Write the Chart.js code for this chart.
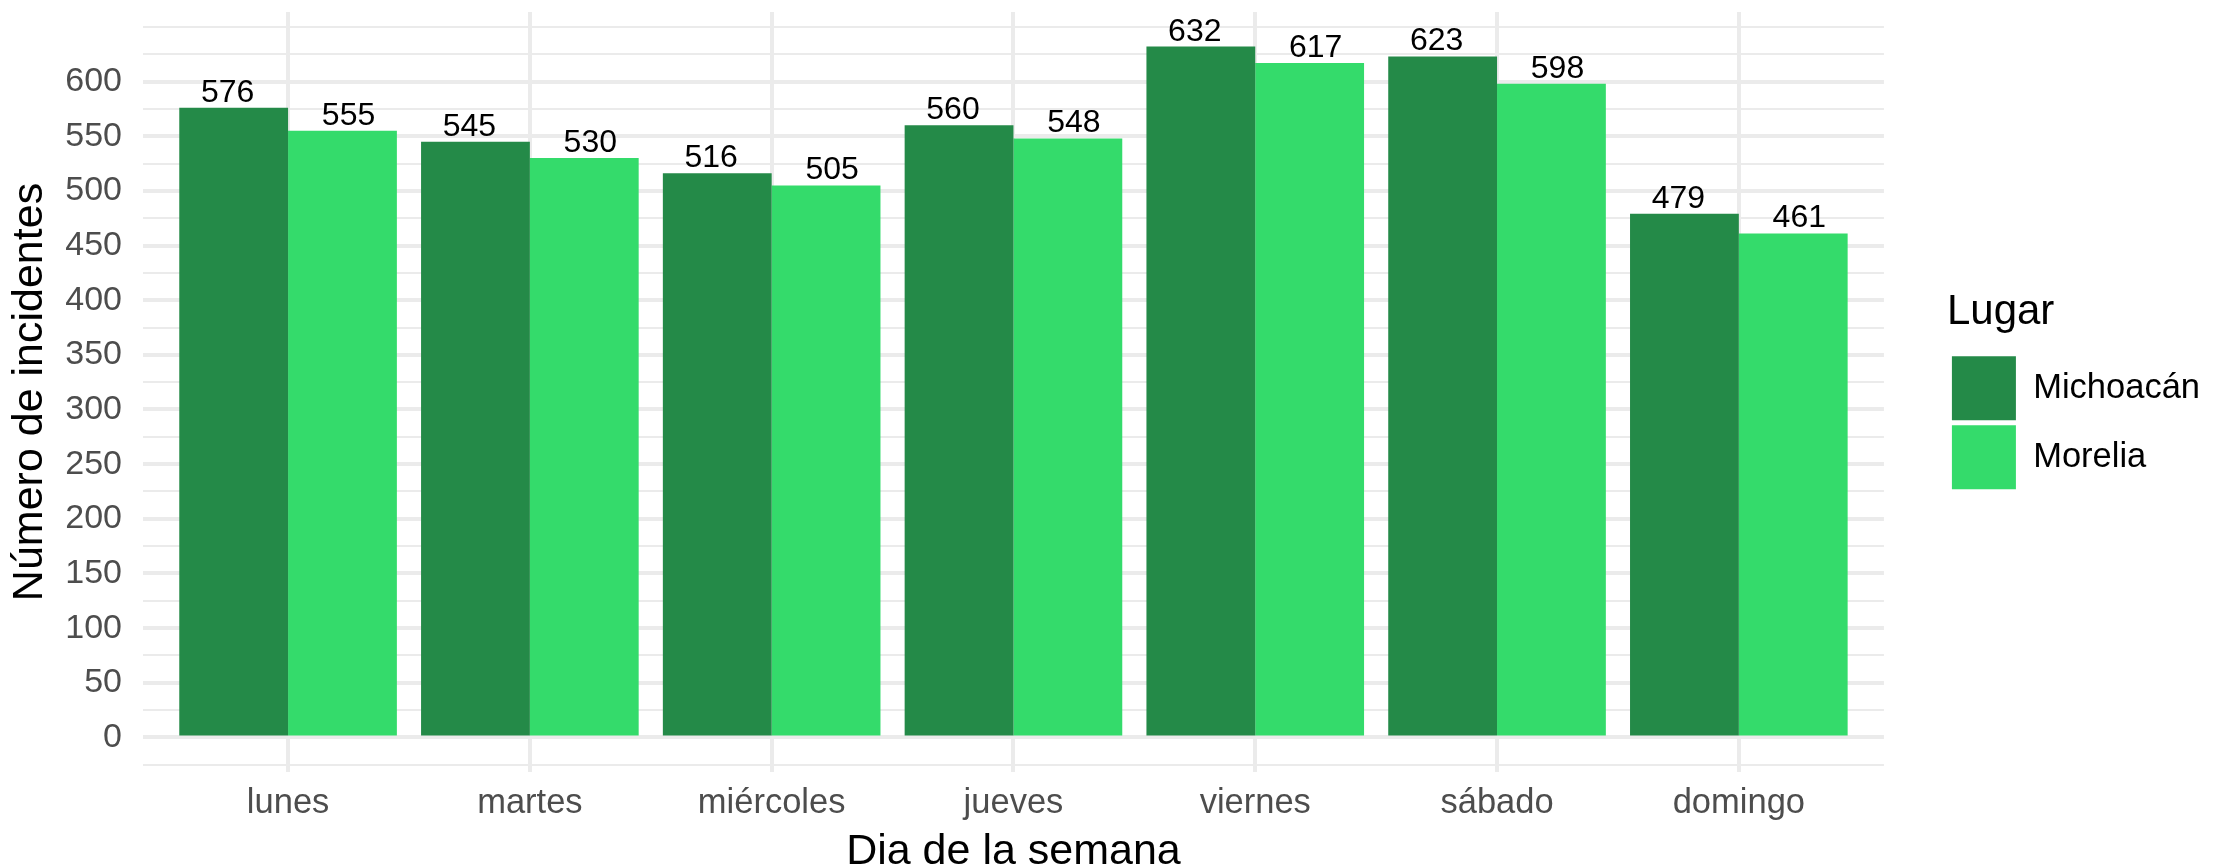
<!DOCTYPE html>
<html>
<head>
<meta charset="utf-8">
<script src="https://cdn.jsdelivr.net/npm/chart.js@4.4.1/dist/chart.umd.min.js"></script>
<style>
  html, body { margin: 0; padding: 0; background: #ffffff; }
</style>
</head>
<body>
<canvas id="chart" width="2213" height="867"></canvas>
<script>
const dias = ["lunes", "martes", "miércoles", "jueves", "viernes", "sábado", "domingo"];
const lugares = ["Michoacán", "Morelia"];
const michoacan = [576, 545, 516, 560, 632, 623, 479];
const morelia = [555, 530, 505, 548, 617, 598, 461];
const etiquetasY = [0, 50, 100, 150, 200, 250, 300, 350, 400, 450, 500, 550, 600];
const lineasY = [-25, 0, 25, 50, 75, 100, 125, 150, 175, 200, 225, 250, 275, 300,
  325, 350, 375, 400, 425, 450, 475, 500, 525, 550, 575, 600, 625, 650];

const colores = ["#248A48", "#34DB6B"];
const fuente = '"Liberation Sans", Arial, sans-serif';
Chart.defaults.font.family = fuente;

// etiquetas de valor encima de cada barra
const etiquetasBarras = {
  id: "etiquetasBarras",
  afterDatasetsDraw(chart) {
    const { ctx, scales } = chart;
    ctx.save();
    ctx.font = "32px " + fuente;
    ctx.fillStyle = "#000000";
    ctx.textAlign = "center";
    ctx.textBaseline = "alphabetic";
    chart.data.datasets.forEach((ds, d) => {
      const desplaz = d === 0 ? -0.25 : 0.25;
      ds.data.forEach((p) => {
        ctx.fillText(
          String(p.y),
          scales.x.getPixelForValue(p.x + desplaz),
          scales.y.getPixelForValue(p.y) - 6,
        );
      });
    });
    ctx.restore();
  },
};

new Chart(document.getElementById("chart"), {
  type: "bar",
  data: {
    datasets: [
      {
        label: lugares[0],
        data: michoacan.map((v, i) => ({ x: i, y: v })),
        backgroundColor: colores[0],
      },
      {
        label: lugares[1],
        data: morelia.map((v, i) => ({ x: i, y: v })),
        backgroundColor: colores[1],
      },
    ],
  },
  options: {
    responsive: false,
    devicePixelRatio: 1,
    animation: false,
    layout: { padding: { left: 0, right: 3, top: 12, bottom: 0 } },
    datasets: {
      bar: { categoryPercentage: 0.9, barPercentage: 1.0, borderWidth: 0 },
    },
    scales: {
      x: {
        type: "linear",
        min: -0.6,
        max: 6.6,
        offset: false,
        afterBuildTicks: (axis) => {
          axis.ticks = dias.map((d, i) => ({ value: i }));
        },
        ticks: {
          callback: (v) => dias[v],
          font: { size: 34.5 },
          color: "#4D4D4D",
          padding: 11,
          maxRotation: 0,
          autoSkip: false,
        },
        grid: { color: "#EBEBEB", lineWidth: 4, drawTicks: false, offset: false },
        border: { display: false },
        title: {
          display: true,
          text: "Dia de la semana",
          color: "#000000",
          font: { size: 43, lineHeight: 0.8 },
          padding: { top: 0, bottom: -2 },
        },
        afterFit: (s) => {
          s.height = 95;
          s.paddingLeft = 0;
          s.paddingRight = 0;
        },
      },
      y: {
        min: -31.6,
        max: 663.6,
        afterBuildTicks: (axis) => {
          axis.ticks = lineasY.map((v) => ({ value: v }));
        },
        ticks: {
          callback: (v) => (etiquetasY.includes(v) ? String(v) : ""),
          font: { size: 34 },
          color: "#4D4D4D",
          padding: 21,
          autoSkip: false,
        },
        grid: {
          color: "#EBEBEB",
          lineWidth: (c) => (etiquetasY.includes(c.tick.value) ? 4 : 2),
          drawTicks: false,
        },
        border: { display: false },
        title: {
          display: true,
          text: "Número de incidentes",
          color: "#000000",
          font: { size: 43, lineHeight: 1 },
          padding: { top: 9, bottom: 0 },
        },
        afterFit: (s) => {
          s.width = 143;
          s.paddingTop = 0;
          s.paddingBottom = 0;
        },
      },
      hueco: {
        axis: "y",
        type: "linear",
        position: "right",
        grid: { display: false },
        ticks: { display: false },
        border: { display: false },
        afterFit: (s) => {
          s.width = 63;
        },
      },
    },
    plugins: {
      legend: {
        position: "right",
        align: "center",
        fullSize: false,
        title: {
          display: true,
          text: "Lugar",
          color: "#000000",
          position: "start",
          font: { size: 42 },
          padding: { top: 2, bottom: 9 },
        },
        labels: {
          boxWidth: 64,
          boxHeight: 64,
          padding: 5,
          color: "#000000",
          font: { size: 34.5 },
        },
      },
      tooltip: { enabled: false },
    },
  },
  plugins: [etiquetasBarras],
});
</script>
</body>
</html>
